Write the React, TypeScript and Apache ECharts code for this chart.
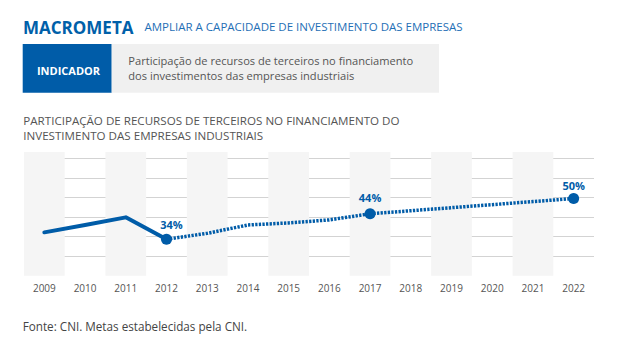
import React, { useEffect, useRef } from "react";
import * as echarts from "echarts";

const years = ["2009", "2010", "2011", "2012", "2013", "2014", "2015", "2016", "2017", "2018", "2019", "2020", "2021", "2022"];
const observed = [36.7, 39.6, 42.6, 34, null, null, null, null, null, null, null, null, null, null];
const targets = [null, null, null, 34, 36.3, 39.6, 40.4, 41.6, 44, 45.2, 46.4, 47.6, 48.8, 50];
const labelledYears = ["2012", "2017", "2022"];

const BLUE = "#005ca8";
const FONT = "'Open Sans', 'Noto Sans', sans-serif";

export default function App() {
  const ref = useRef<HTMLDivElement>(null);
  useEffect(() => {
    if (!ref.current) return;
    const chart = echarts.init(ref.current, null, { renderer: "svg" });
    const labelOffsets: Record<string, { offset: number[]; distance: number }> = {
      "2012": { offset: [5, 0], distance: 4 },
      "2017": { offset: [0, 0], distance: 5 },
      "2022": { offset: [0, 0], distance: 2.5 },
    };
    const targetData = targets.map((v, i) => {
      const y = years[i];
      if (v !== null && labelledYears.includes(y)) {
        return {
          value: v,
          symbol: "circle",
          symbolSize: 11,
          label: {
            show: true,
            position: "top",
            formatter: "{c}%",
            distance: labelOffsets[y].distance,
            offset: labelOffsets[y].offset,
            color: BLUE,
            fontFamily: FONT,
            fontWeight: "bold",
            fontSize: 11,
          },
        };
      }
      return { value: v, symbol: "none" };
    });
    const bands = years.map((_, i) => (i % 2 === 0 ? 1 : null));

    chart.setOption({
      animation: false,
      textStyle: { fontFamily: FONT },
      grid: [
        { left: 24, right: 46, top: 152, bottom: 75.3 },
        { left: 24, right: 46, top: 158.3, bottom: 75.5 },
      ],
      xAxis: [
        {
          type: "category",
          gridIndex: 0,
          data: years,
          boundaryGap: true,
          axisLine: { show: false },
          axisTick: { show: false },
          axisLabel: { color: "#555", fontSize: 10, margin: 7, fontFamily: FONT },
        },
        { type: "category", gridIndex: 1, data: years, show: false },
      ],
      yAxis: [
        { type: "value", gridIndex: 0, min: 19.65, max: 68.3, show: false },
        {
          type: "value",
          gridIndex: 1,
          min: 0,
          max: 6,
          interval: 1,
          axisLabel: { show: false },
          axisLine: { show: false },
          axisTick: { show: false },
          splitLine: { show: true, showMinLine: false, lineStyle: { color: "#d3d3d3", width: 1 } },
        },
        { type: "value", gridIndex: 0, min: 0, max: 1, show: false },
      ],
      graphic: [
        {
          type: "text",
          x: 23,
          y: 27.3,
          style: { text: "MACROMETA", font: `bold 17px ${FONT}`, fill: "#0060a9", verticalAlign: "middle" },
        },
        {
          type: "text",
          x: 144.5,
          y: 26.9,
          style: {
            text: "AMPLIAR A CAPACIDADE DE INVESTIMENTO DAS EMPRESAS",
            font: `11.5px ${FONT}`,
            fill: "#1f6fb6",
            verticalAlign: "middle",
          },
        },
        { type: "rect", shape: { x: 22.7, y: 44, width: 89, height: 48.7 }, style: { fill: BLUE } },
        { type: "rect", shape: { x: 111.7, y: 44, width: 327.3, height: 48.7 }, style: { fill: "#f0f0f0" } },
        {
          type: "text",
          x: 68.5,
          y: 70.3,
          style: { text: "INDICADOR", font: `bold 11px ${FONT}`, fill: "#ffffff", align: "center", verticalAlign: "middle" },
        },
        {
          type: "text",
          x: 128.3,
          y: 53.3,
          style: {
            text: "Participação de recursos de terceiros no financiamento\ndos investimentos das empresas industriais",
            font: `11.1px ${FONT}`,
            lineHeight: 15,
            fill: "#555555",
            verticalAlign: "top",
          },
        },
        {
          type: "text",
          x: 23.3,
          y: 112.9,
          style: {
            text: "PARTICIPAÇÃO DE RECURSOS DE TERCEIROS NO FINANCIAMENTO DO\nINVESTIMENTO DAS EMPRESAS INDUSTRIAIS",
            font: `11.6px ${FONT}`,
            lineHeight: 15,
            fill: "#555555",
            verticalAlign: "top",
          },
        },
        {
          type: "text",
          x: 22.7,
          y: 326,
          style: {
            text: "Fonte: CNI. Metas estabelecidas pela CNI.",
            font: `11.7px ${FONT}`,
            fill: "#444444",
            verticalAlign: "middle",
          },
        },
      ],
      series: [
        {
          type: "bar",
          name: "bands",
          xAxisIndex: 0,
          yAxisIndex: 2,
          data: bands,
          barWidth: "100%",
          silent: true,
          itemStyle: { color: "#f5f5f5" },
          z: 0,
        },
        {
          type: "line",
          name: "Realizado",
          xAxisIndex: 0,
          yAxisIndex: 0,
          data: observed,
          symbol: "none",
          lineStyle: { color: BLUE, width: 4, cap: "round", join: "round" },
          z: 3,
        },
        {
          type: "line",
          name: "Meta",
          xAxisIndex: 0,
          yAxisIndex: 0,
          data: targetData,
          symbol: "none",
          showAllSymbol: true,
          itemStyle: { color: BLUE },
          lineStyle: { color: BLUE, width: 3.5, type: [2.3, 1.3] },
          z: 4,
        },
      ],
    });
    return () => chart.dispose();
  }, []);
  return <div ref={ref} style={{ position: "absolute", left: 0, top: 0, width: 640, height: 351 }} />;
}
